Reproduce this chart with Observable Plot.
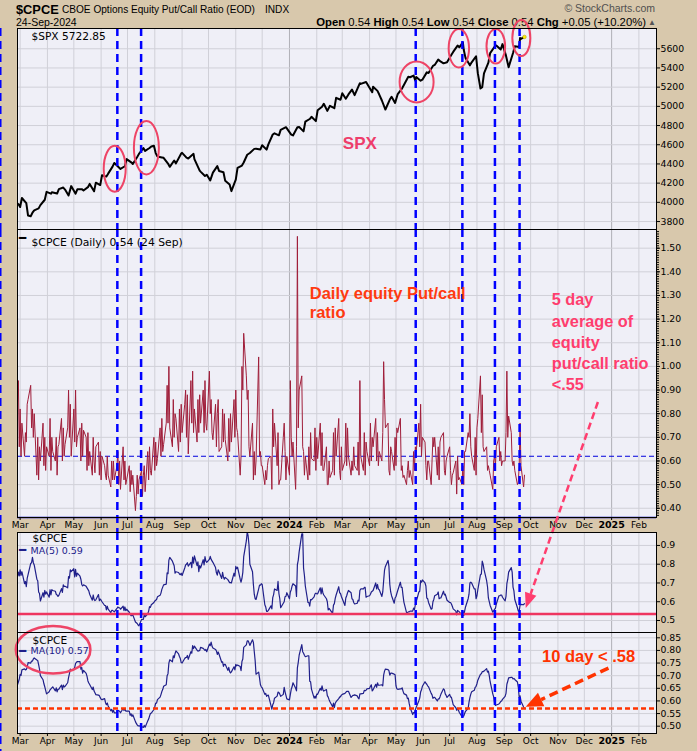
<!DOCTYPE html>
<html><head><meta charset="utf-8">
<script src="https://cdn.jsdelivr.net/npm/d3@7"></script>
<script src="https://cdn.jsdelivr.net/npm/@observablehq/plot@0.6"></script>
<style>
body{margin:0;background:#D8C8AC;}
#wrap{position:relative;width:697px;height:751px;overflow:hidden;background:#D8C8AC;}
#wrap svg{overflow:visible}
</style></head><body><div id="wrap">
<svg id="hdr" width="697" height="28" style="position:absolute;left:0;top:0;font-family:'Liberation Sans',Arial,sans-serif">
<text x="16" y="13.5" font-size="12.8" font-weight="bold">$CPCE</text>
<text x="62" y="13" font-size="10.1">CBOE Options Equity Put/Call Ratio (EOD)</text>
<text x="265" y="13" font-size="10.1">INDX</text>
<text x="16" y="25.5" font-size="10.5">24-Sep-2024</text>
<text x="655" y="12" font-size="10.5" text-anchor="end" fill="#505050">© StockCharts.com</text>
<text x="646" y="25.5" font-size="11.3" text-anchor="end"><tspan font-weight="bold">Open</tspan> 0.54 <tspan font-weight="bold">High</tspan> 0.54 <tspan font-weight="bold">Low</tspan> 0.54 <tspan font-weight="bold">Close</tspan> 0.54 <tspan font-weight="bold">Chg</tspan> +0.05 (+10.20%)</text>
<text x="656" y="24.5" font-size="8" text-anchor="end" fill="#555">▲</text>
</svg>
</div>
<script>
// ---------------- data ----------------
const cpceStart = "2023-02-13";   // first weekday of the daily series (weekdays follow)
const cpceDaily = [
0.62,0.54,0.64,0.66,0.54, 0.58,0.76,0.66,0.77,0.66,
0.94,0.66,0.82,0.62,0.76, 0.62,0.72,0.68,0.84,0.86, 0.92,0.74,0.82,0.70,0.80, 0.54,0.70,0.52,0.66,0.60,
0.76,0.58,0.70,0.56,0.66, 0.62,0.78,0.56,0.70,0.64, 0.60,0.70,0.54,0.66,0.67, 0.78,0.60,0.74,0.62,0.67,
0.74,0.90,0.70,0.84,0.62, 0.82,0.68,0.90,0.66,0.70, 0.74,0.60,0.76,0.62,0.73, 0.70,0.56,0.72,0.58,0.64,
0.54,0.70,0.60,0.55,0.66, 0.68,0.54,0.64,0.52,0.62, 0.58,0.54,0.52,0.62,0.54, 0.49,0.60,0.52,0.60,0.52,
0.58,0.64,0.50,0.60,0.48, 0.66,0.52,0.60,0.50,0.52, 0.58,0.47,0.56,0.50,0.54, 0.39,0.45,0.54,0.46,0.52,
0.56,0.45,0.54,0.58,0.47, 0.64,0.52,0.66,0.56,0.54, 0.70,0.56,0.68,0.58,0.61, 0.74,0.62,0.78,0.64,0.67,
0.76,0.92,0.76,1.00,0.74, 0.66,0.86,0.70,0.80,0.78, 0.64,0.82,0.68,0.84,0.72, 0.84,0.90,0.70,0.88,0.63,
0.94,0.76,0.98,0.72,0.82, 0.68,0.86,0.72,0.88,0.76, 0.90,0.72,0.94,0.76,0.73, 0.98,0.80,0.86,0.72,0.69,
0.84,0.66,0.80,0.86,0.64, 0.66,0.82,0.68,0.80,0.69, 0.60,0.78,0.64,0.80,0.68, 0.86,0.70,0.90,0.74,0.72,
0.54,0.62,1.00,0.90,1.14, 0.96,0.86,0.90,0.66,0.62, 0.76,0.52,0.64,0.54,0.60, 1.04,0.62,0.64,0.58,0.58,
0.50,0.56,0.52,0.58,0.61, 0.62,0.48,0.82,0.66,0.76, 0.58,0.72,0.50,0.52,0.52, 0.70,0.76,0.64,0.52,0.62,
0.54,0.94,0.70,0.62,0.68, 0.48,0.66,1.55,0.74,0.90, 0.96,0.66,0.64,0.54,0.62, 0.52,0.66,0.54,0.72,0.61,
0.60,0.74,0.56,0.70,0.61, 0.76,0.58,0.72,0.56,0.56, 0.66,0.50,0.50,0.60,0.53, 0.56,0.72,0.54,0.74,0.62,
0.78,0.56,0.52,0.66,0.56, 0.60,0.76,0.58,0.74,0.62, 0.54,0.60,0.56,0.66,0.58, 0.56,0.68,0.54,0.94,0.62,
0.56,0.72,0.54,0.68,0.64, 0.58,0.76,0.60,0.70,0.66, 0.78,0.60,0.72,0.58,0.64, 0.60,0.72,1.02,0.86,0.74,
0.76,0.56,0.54,0.66,0.64, 0.56,0.70,0.58,0.74,0.72, 0.78,0.56,0.58,0.53,0.54, 0.50,0.56,0.60,0.53,0.56,
0.50,0.64,0.56,0.66,0.64, 0.76,0.66,0.84,0.62,0.70, 0.68,0.58,0.52,0.60,0.60, 0.50,0.60,0.70,0.66,0.70,
0.54,0.66,0.52,0.68,0.70, 0.72,0.56,0.54,0.60,0.62, 0.66,0.56,0.50,0.54,0.55, 0.60,0.46,0.62,0.52,0.53,
0.50,0.58,0.50,0.64,0.64, 0.72,0.70,0.80,0.66,0.62, 0.56,0.70,0.54,0.74,0.78, 0.96,0.72,0.88,0.66,0.64,
0.66,0.56,0.58,0.56,0.54, 0.48,0.60,0.62,0.58,0.66, 0.70,0.60,0.64,0.58,0.60, 0.60,0.72,0.98,0.70,0.79,
0.72,0.60,0.58,0.60,0.56, 0.50,0.51,0.58,0.76,0.58, 0.49,0.54
];
const spxDates = ["2023-02-27","2023-03-01","2023-03-03","2023-03-08","2023-03-10","2023-03-13","2023-03-15","2023-03-17","2023-03-22","2023-03-24","2023-03-29","2023-03-31",
"2023-04-05","2023-04-06","2023-04-12","2023-04-14","2023-04-19","2023-04-21","2023-04-25","2023-04-28",
"2023-05-03","2023-05-05","2023-05-10","2023-05-12","2023-05-17","2023-05-19","2023-05-24","2023-05-26","2023-05-31",
"2023-06-02","2023-06-07","2023-06-09","2023-06-14","2023-06-16","2023-06-21","2023-06-23","2023-06-28","2023-06-30",
"2023-07-06","2023-07-07","2023-07-12","2023-07-14","2023-07-19","2023-07-21","2023-07-26","2023-07-28","2023-07-31",
"2023-08-02","2023-08-04","2023-08-09","2023-08-11","2023-08-16","2023-08-18","2023-08-23","2023-08-25","2023-08-31",
"2023-09-01","2023-09-06","2023-09-08","2023-09-14","2023-09-15","2023-09-21","2023-09-22","2023-09-27","2023-09-29",
"2023-10-03","2023-10-06","2023-10-11","2023-10-13","2023-10-18","2023-10-20","2023-10-25","2023-10-27",
"2023-11-01","2023-11-03","2023-11-08","2023-11-10","2023-11-14","2023-11-17","2023-11-22","2023-11-24","2023-11-29",
"2023-12-01","2023-12-06","2023-12-08","2023-12-13","2023-12-15","2023-12-20","2023-12-22","2023-12-28","2023-12-29",
"2024-01-03","2024-01-05","2024-01-10","2024-01-12","2024-01-17","2024-01-19","2024-01-24","2024-01-26","2024-01-31",
"2024-02-02","2024-02-07","2024-02-09","2024-02-13","2024-02-16","2024-02-21","2024-02-23","2024-02-28",
"2024-03-01","2024-03-05","2024-03-08","2024-03-12","2024-03-15","2024-03-21","2024-03-22","2024-03-28",
"2024-04-04","2024-04-05","2024-04-10","2024-04-12","2024-04-15","2024-04-19","2024-04-24","2024-04-26","2024-04-30",
"2024-05-03","2024-05-08","2024-05-10","2024-05-15","2024-05-17","2024-05-21","2024-05-23","2024-05-24","2024-05-29","2024-05-31",
"2024-06-05","2024-06-07","2024-06-12","2024-06-14","2024-06-18","2024-06-21","2024-06-24","2024-06-28",
"2024-07-03","2024-07-05","2024-07-10","2024-07-12","2024-07-16","2024-07-17","2024-07-19","2024-07-24","2024-07-26","2024-07-31",
"2024-08-02","2024-08-05","2024-08-07","2024-08-09","2024-08-14","2024-08-16","2024-08-21","2024-08-23","2024-08-28","2024-08-30",
"2024-09-03","2024-09-06","2024-09-11","2024-09-13","2024-09-18","2024-09-19","2024-09-20","2024-09-23","2024-09-24"];
const spxClose = [3982,3951,4045,3992,3862,3855,3892,3917,3937,3971,4027,4109,
4090,4105,4092,4137,4154,4133,4071,4169,
4090,4136,4137,4124,4158,4192,4115,4205,4180,
4282,4268,4299,4372,4410,4366,4348,4376,4450,
4411,4399,4472,4505,4565,4536,4566,4582,4589,
4513,4478,4468,4464,4404,4370,4436,4406,4508,
4516,4465,4457,4505,4450,4330,4320,4274,4288,
4229,4309,4377,4327,4314,4224,4186,4117,
4237,4358,4383,4415,4496,4514,4557,4559,4551,
4595,4549,4604,4707,4719,4698,4755,4783,4770,
4705,4697,4783,4784,4739,4840,4868,4891,4846,
4959,4995,5027,4953,5006,4981,5089,5069,
5137,5079,5124,5175,5117,5241,5234,5254,
5147,5204,5161,5123,5061,4967,5071,5100,5036,
5128,5188,5223,5308,5303,5321,5268,5305,5267,5278,
5354,5347,5421,5431,5487,5465,5448,5460,
5537,5567,5633,5615,5667,5589,5505,5427,5459,5522,
5346,5186,5199,5344,5455,5554,5621,5634,5592,5648,
5528,5408,5555,5626,5618,5713,5703,5718,5723];
const signalDates = ["2023-06-20","2023-07-17","2024-05-24","2024-07-16","2024-08-22","2024-09-19"];
const edgeDate = "2023-02-07";
const circleDates = ["2023-06-17","2023-07-23","2024-05-25","2024-07-12","2024-08-23","2024-09-21"];
const circleSpx = [4345,4564,5249,5600,5621,5707];
const spxTicks = [3800,4000,4200,4400,4600,4800,5000,5200,5400,5600];
const dailyTicks = [0.4,0.5,0.6,0.7,0.8,0.9,1.0,1.1,1.2,1.3,1.4,1.5];
const ma5Ticks = [0.5,0.6,0.7,0.8,0.9];
const ma10Ticks = [0.5,0.55,0.6,0.65,0.7,0.75,0.8,0.85];
const dailyRef = 0.62, ma5Line = 0.535, ma10Line = 0.57;
const lastSpx = "5722.85", lastCpce = "0.54", lastMa5 = "0.59", lastMa10 = "0.57";

// ---------------- styles ----------------
const circleRx = [11,12.5,17,10.2,9.3,9], circleRy = [23,26.7,20.5,19.3,17.3,18];
const W = 697, ML = 17, MR = 41;
const BG = "#EFEFF7", GRID = "#d0d0d8", GRIDJ = "#b0b0b8";
const xDomain = [new Date("2023-02-26"), new Date("2025-02-21")];
const months = d3.utcMonth.range(new Date("2023-03-01"), new Date("2025-02-02"));
const monthsN = months.filter(d => d.getUTCMonth() !== 0);
const monthsJ = months.filter(d => d.getUTCMonth() === 0);
const ANN = "Liberation Sans, Arial, sans-serif";

const cpceDates = d3.utcDay.range(new Date(cpceStart), new Date("2024-09-25")).filter(d => d.getUTCDay() % 6 !== 0);
const cpce = cpceDaily.map((v, i) => ({date: cpceDates[i], v}));
const spx = spxDates.map((d, i) => ({date: new Date(d), v: spxClose[i]}));

// function marks using the plot's own scales
function vlines(dates, full, style) {
  return (index, scales, values, dims) => {
    const g = d3.create("svg:g");
    for (const d of dates) {
      const x = scales.x(new Date(d));
      g.append("line").attr("x1", x).attr("x2", x)
        .attr("y1", full ? 0 : dims.marginTop).attr("y2", full ? dims.height : dims.height - dims.marginBottom)
        .attr("stroke", style.stroke).attr("stroke-width", style.width).attr("stroke-dasharray", style.dash);
    }
    return g.node();
  };
}
function ellipses(dates, vals, rx, ry, style) {
  return (index, scales) => {
    const g = d3.create("svg:g");
    dates.forEach((d, i) => g.append("ellipse")
      .attr("cx", scales.x(new Date(d))).attr("cy", scales.y(vals[i]))
      .attr("rx", rx[i]).attr("ry", ry[i]).attr("fill", "none")
      .attr("stroke", style.stroke).attr("stroke-width", style.width));
    return g.node();
  };
}
function arrow(a, style) {
  return (index, scales) => {
    const x1 = scales.x(new Date(a.d1)), y1 = scales.y(a.v1), x2 = scales.x(new Date(a.d2)), y2 = scales.y(a.v2);
    const ang = Math.atan2(y2 - y1, x2 - x1), L = style.head, H = style.headW / 2;
    const bx = x2 - L * Math.cos(ang), by = y2 - L * Math.sin(ang);
    const g = d3.create("svg:g");
    g.append("line").attr("x1", x1).attr("y1", y1).attr("x2", bx).attr("y2", by)
      .attr("stroke", style.color).attr("stroke-width", style.width).attr("stroke-dasharray", style.dash);
    g.append("polygon").attr("points", [[x2, y2], [bx + H * Math.sin(ang), by - H * Math.cos(ang)], [bx - H * Math.sin(ang), by + H * Math.cos(ang)]].map(p => p.join(",")).join(" "))
      .attr("fill", style.color);
    return g.node();
  };
}
const blueV = {stroke: "#0000FF", width: 2.5, dash: "8,5"};

function panel({height, marginBottom = 0, yDomain, yTicks, yFormat, marks, xAxis = false, top}) {
  const p = Plot.plot({
    width: W, height, marginLeft: ML, marginRight: MR, marginTop: 0, marginBottom,
    x: {type: "utc", domain: xDomain, axis: null},
    y: {domain: yDomain, axis: null},
    style: {background: "transparent", fontFamily: "DejaVu Sans, sans-serif", fontSize: "9.3px", overflow: "visible"},
    marks: [
      Plot.frame({fill: BG}),
      Plot.gridX(monthsN, {stroke: GRID, strokeOpacity: 1}),
      Plot.gridX(monthsJ, {stroke: GRIDJ, strokeOpacity: 1}),
      Plot.gridY(yTicks, {stroke: GRID, strokeOpacity: 1}),
      ...marks,
      Plot.axisY(yTicks, {anchor: "right", tickSize: 3, tickPadding: 1, tickFormat: yFormat, fontSize: 9.3, label: null}),
      Plot.frame({stroke: "black"}),
      ...(xAxis ? [
        Plot.axisX(monthsN, {anchor: "bottom", tickSize: 3, tickPadding: 1, tickFormat: d3.utcFormat("%b"), fontSize: 9, label: null}),
        Plot.axisX(monthsJ, {anchor: "bottom", tickSize: 3, tickPadding: 1, tickFormat: d3.utcFormat("%Y"), fontSize: 9.5, fontWeight: "bold", label: null})
      ] : [])
    ]
  });
  p.style.position = "absolute"; p.style.left = "0px"; p.style.top = top + "px";
  document.getElementById("wrap").appendChild(p);
  return p;
}

// ---- SPX panel
panel({
  top: 28, height: 201, yDomain: [3717, 5811], yTicks: spxTicks, yFormat: d3.format("d"),
  marks: [
    vlines([edgeDate], true, blueV),
    Plot.lineY(spx, {x: "date", y: "v", stroke: "black", strokeWidth: 2, clip: true}),
    Plot.dot(spx.slice(-1), {x: "date", y: "v", r: 1.8, fill: "#ffee00", stroke: "#aa9900", strokeWidth: 0.5}),
    vlines(signalDates, true, blueV),
    ellipses(circleDates, circleSpx, circleRx, circleRy, {stroke: "#EE4466", width: 2}),
    Plot.text(["$SPX " + lastSpx], {frameAnchor: "top-left", dx: 14, dy: 3.5, lineAnchor: "top", textAnchor: "start", fontSize: 10.6, text: d => d}),
    Plot.text([{date: new Date("2024-03-21"), v: 4613, t: "SPX"}], {x: "date", y: "v", text: "t", fontFamily: ANN, fontWeight: "bold", fontSize: 17, fill: "#EE3D6B", lineAnchor: "middle"})
  ]
});

// ---- Daily CPCE panel
panel({
  top: 229, height: 303, marginBottom: 15, yDomain: [0.361, 1.579], yTicks: dailyTicks, yFormat: d3.format(".2f"), xAxis: true,
  marks: [
    Plot.ruleY([dailyRef], {stroke: "#0000DD", strokeWidth: 1, strokeDasharray: "5,3"}),
    Plot.lineY(cpce, {x: "date", y: "v", stroke: "#A01E3A", strokeWidth: 1, clip: true}),
    Plot.axisY(d3.range(37, 158).map(d => d / 100), {anchor: "right", tickSize: 2, tickFormat: () => "", label: null}),
    Plot.ruleY([0.361], {stroke: "#0000CC", strokeWidth: 1.5}),
    vlines([edgeDate], true, blueV),
    vlines(signalDates, true, blueV),
    Plot.text(["━"], {frameAnchor: "top-left", dx: 1.5, dy: 4, lineAnchor: "top", textAnchor: "start", fontSize: 12, text: d => d}),
    Plot.text(["$CPCE (Daily) " + lastCpce + " (24 Sep)"], {frameAnchor: "top-left", dx: 14, dy: 9, lineAnchor: "top", textAnchor: "start", fontSize: 10.8, text: d => d}),
    Plot.text([{date: new Date("2024-01-24"), v: 1.341, t: "Daily equity Put/call\nratio"}], {x: "date", y: "v", text: "t", textAnchor: "start", lineAnchor: "top", lineHeight: 1.15, fontFamily: ANN, fontWeight: "bold", fontSize: 16.5, fill: "#FF3A10"}),
    Plot.text([{date: new Date("2024-10-25"), v: 1.322, t: "5 day\naverage of\nequity\nput/call ratio\n<.55"}], {x: "date", y: "v", text: "t", textAnchor: "start", lineAnchor: "top", lineHeight: 1.3, fontFamily: ANN, fontWeight: "bold", fontSize: 16.3, fill: "#FF3D6E"})
  ]
});

// ---- MA(5) panel
panel({
  top: 532, height: 100, yDomain: [0.436, 0.969], yTicks: ma5Ticks, yFormat: d3.format(".1f"),
  marks: [
    Plot.lineY(cpce, Plot.windowY({k: 5, anchor: "end"}, {x: "date", y: "v", stroke: "#20208A", strokeWidth: 1.2, clip: true})),
    Plot.ruleY([ma5Line], {stroke: "#EE3560", strokeWidth: 2.5}),
    vlines([edgeDate], true, blueV),
    vlines(signalDates, true, blueV),
    Plot.text(["$CPCE"], {frameAnchor: "top-left", dx: 15, dy: 1.8, lineAnchor: "top", textAnchor: "start", fontSize: 10.6, text: d => d}),
    Plot.text(["━"], {frameAnchor: "top-left", dx: 1.5, dy: 13, lineAnchor: "top", textAnchor: "start", fontSize: 12, fill: "#20208A", text: d => d}),
    Plot.text(["MA(5) " + lastMa5], {frameAnchor: "top-left", dx: 13, dy: 14.5, lineAnchor: "top", textAnchor: "start", fontSize: 9.5, fill: "#20208A", text: d => d}),
    arrow({d1: "2024-12-17", v1: 1.662, d2: "2024-09-26", v2: 0.564}, {color: "#FF3D6E", width: 2.5, dash: "7,4", head: 15, headW: 12})
  ]
});

// ---- MA(10) panel
panel({
  top: 632, height: 119, marginBottom: 18, yDomain: [0.471, 0.871], yTicks: ma10Ticks, yFormat: d3.format(".2f"), xAxis: true,
  marks: [
    Plot.lineY(cpce, Plot.windowY({k: 10, anchor: "end"}, {x: "date", y: "v", stroke: "#20208A", strokeWidth: 1.2, clip: true})),
    Plot.ruleY([ma10Line], {stroke: "#FF3300", strokeWidth: 2.5, strokeDasharray: "5,3"}),
    vlines([edgeDate], true, blueV),
    vlines(signalDates, false, blueV),
    Plot.text(["$CPCE"], {frameAnchor: "top-left", dx: 15, dy: 4.2, lineAnchor: "top", textAnchor: "start", fontSize: 10.6, text: d => d}),
    Plot.text(["━"], {frameAnchor: "top-left", dx: 1.5, dy: 13.5, lineAnchor: "top", textAnchor: "start", fontSize: 12, fill: "#20208A", text: d => d}),
    Plot.text(["MA(10) " + lastMa10], {frameAnchor: "top-left", dx: 13, dy: 15, lineAnchor: "top", textAnchor: "start", fontSize: 9.5, fill: "#20208A", text: d => d}),
    ellipses(["2023-04-08"], [0.801], [37.3], [23.7], {stroke: "#EE4466", width: 2.5}),
    Plot.text([{date: new Date("2024-10-14"), v: 0.800, t: "10 day < .58"}], {x: "date", y: "v", text: "t", textAnchor: "start", lineAnchor: "top", fontFamily: ANN, fontWeight: "bold", fontSize: 16.5, fill: "#FF3300"}),
    arrow({d1: "2024-12-29", v1: 0.728, d2: "2024-09-26", v2: 0.575}, {color: "#FF3300", width: 3.5, dash: "9,5", head: 17, headW: 15})
  ]
});
</script></body></html>
